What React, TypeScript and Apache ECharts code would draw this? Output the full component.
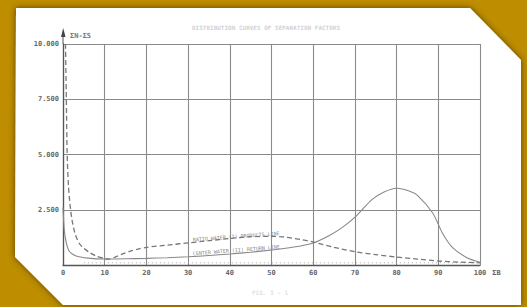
import React, { useEffect, useRef } from "react";
import * as echarts from "echarts";

// x positions (percent) and values for the dashed curve
const dashedX = [0.6, 0.8, 1.0, 1.3, 1.7, 2.2, 3.0, 4.0, 5.0, 6.5, 8.0, 10.0, 11.0, 12.5, 14.0, 16.0, 18.0, 20.0, 25.0, 30.0, 35.0, 40.0, 45.0, 50.0, 53.0, 57.0, 60.0, 65.0, 70.0, 75.0, 80.0, 85.0, 90.0, 95.0, 100.0];
const dashedY = [10.0, 7.5, 5.0, 3.6, 2.7, 2.0, 1.35, 0.95, 0.75, 0.55, 0.4, 0.29, 0.27, 0.36, 0.48, 0.62, 0.72, 0.8, 0.9, 1.0, 1.1, 1.2, 1.28, 1.3, 1.27, 1.15, 1.04, 0.8, 0.6, 0.47, 0.36, 0.27, 0.18, 0.13, 0.1];

// solid curve
const solidX = [0.0, 0.3, 0.8, 1.5, 3.0, 6.0, 10.0, 15.0, 20.0, 25.0, 30.0, 35.0, 40.0, 45.0, 50.0, 55.0, 60.0, 64.0, 67.0, 70.5, 74.0, 77.0, 80.0, 83.0, 85.0, 88.7, 91.0, 93.5, 97.0, 100.0];
const solidY = [2.6, 1.6, 1.0, 0.62, 0.42, 0.31, 0.27, 0.28, 0.3, 0.33, 0.37, 0.43, 0.5, 0.58, 0.68, 0.8, 1.0, 1.35, 1.7, 2.25, 2.95, 3.3, 3.47, 3.35, 3.15, 2.34, 1.44, 0.77, 0.32, 0.12];

// faint dotted base line
const baseX = [5, 100];
const baseY = [0.1, 0.1];

const xTicks = [0, 10, 20, 30, 40, 50, 60, 70, 80, 90, 100];
const yTicks = [0, 2.5, 5, 7.5, 10];

const pairs = (xs: number[], ys: number[]) => xs.map((x, i) => [x, ys[i]]);

export default function App() {
  const ref = useRef<HTMLDivElement>(null);
  useEffect(() => {
    document.body.style.margin = "0";
    const chart = echarts.init(ref.current!, null, { renderer: "svg" });
    const mono = "DejaVu Sans Mono";
    chart.setOption({
      animation: false,
      backgroundColor: "#BE8E00",
      graphic: [
        {
          type: "polygon",
          z: -10,
          silent: true,
          shape: { points: [[16, 8], [470, 8], [521, 60], [521, 305], [63, 305], [15, 257]] },
          style: { fill: "#ffffff", shadowBlur: 6, shadowColor: "rgba(70,45,0,0.85)" },
        },
        {
          type: "line",
          shape: { x1: 63, y1: 44, x2: 63, y2: 34 },
          style: { stroke: "#555", lineWidth: 1 },
        },
        {
          type: "polygon",
          shape: { points: [[61, 37], [63.2, 28], [65.5, 37]] },
          style: { fill: "#444" },
        },
        {
          type: "text",
          x: 70,
          y: 36,
          style: { text: "ΣN-ΣS", font: `bold 7px ${mono}`, fill: "#777", verticalAlign: "middle" },
        },
        {
          type: "text",
          x: 266,
          y: 27,
          style: {
            text: "DISTRIBUTION CURVES OF SEPARATION FACTORS",
            font: `bold 6px ${mono}`,
            fill: "#d2d2d2",
            align: "center",
            verticalAlign: "middle",
          },
        },
        {
          type: "text",
          x: 270,
          y: 292,
          style: { text: "FIG. 3 - 1", font: `bold 6px ${mono}`, fill: "#e2e2e2", align: "center", verticalAlign: "middle" },
        },
        {
          type: "text",
          x: 193,
          y: 242,
          rotation: 0.075,
          style: { text: "RATIO WATER (I) PRODUCTS LINE", font: `5px ${mono}`, fill: "#888", verticalAlign: "bottom" },
        },
        {
          type: "text",
          x: 193,
          y: 256,
          rotation: 0.08,
          style: { text: "CENTER WATER (II) RETURN LINE", font: `5px ${mono}`, fill: "#888", verticalAlign: "bottom" },
        },
      ],
      grid: { left: 63, right: 47, top: 44, bottom: 42 },
      xAxis: {
        type: "value",
        min: xTicks[0],
        max: xTicks[xTicks.length - 1],
        interval: 10,
        name: "ΣB",
        nameLocation: "end",
        nameGap: 8,
        nameTextStyle: { color: "#666", fontSize: 7, fontFamily: mono, fontWeight: "bold", verticalAlign: "top", padding: [4, 0, 0, 0] },
        axisLine: { show: true, lineStyle: { color: "#555", width: 1.3 } },
        axisTick: { show: false },
        axisLabel: { color: "#666", fontSize: 7, fontFamily: mono, fontWeight: "bold", margin: 4 },
        splitLine: { show: true, lineStyle: { color: "#8a8a8a", width: 1.1 } },
      },
      yAxis: {
        type: "value",
        min: yTicks[0],
        max: yTicks[yTicks.length - 1],
        interval: 2.5,
        axisLine: { show: true, lineStyle: { color: "#555", width: 1.3 } },
        axisTick: { show: false },
        axisLabel: {
          color: "#666",
          fontSize: 7,
          fontFamily: mono,
          fontWeight: "bold",
          margin: 4,
          formatter: (v: number) => (v === 0 ? "" : v.toFixed(3)),
        },
        splitLine: { show: true, lineStyle: { color: "#8a8a8a", width: 1.1 } },
      },
      series: [
        {
          type: "line",
          data: pairs(baseX, baseY),
          showSymbol: false,
          lineStyle: { color: "#aaa", width: 1, type: [1, 3] },
          z: 1,
        },
        {
          type: "line",
          data: pairs(solidX, solidY),
          showSymbol: false,
          smooth: 0.25,
          lineStyle: { color: "#888", width: 1.1 },
        },
        {
          type: "line",
          data: pairs(dashedX, dashedY),
          showSymbol: false,
          smooth: 0.25,
          lineStyle: { color: "#777", width: 1.3, type: [5, 3] },
        },
      ],
    });
    return () => chart.dispose();
  }, []);
  return <div ref={ref} style={{ width: 527, height: 307 }} />;
}
